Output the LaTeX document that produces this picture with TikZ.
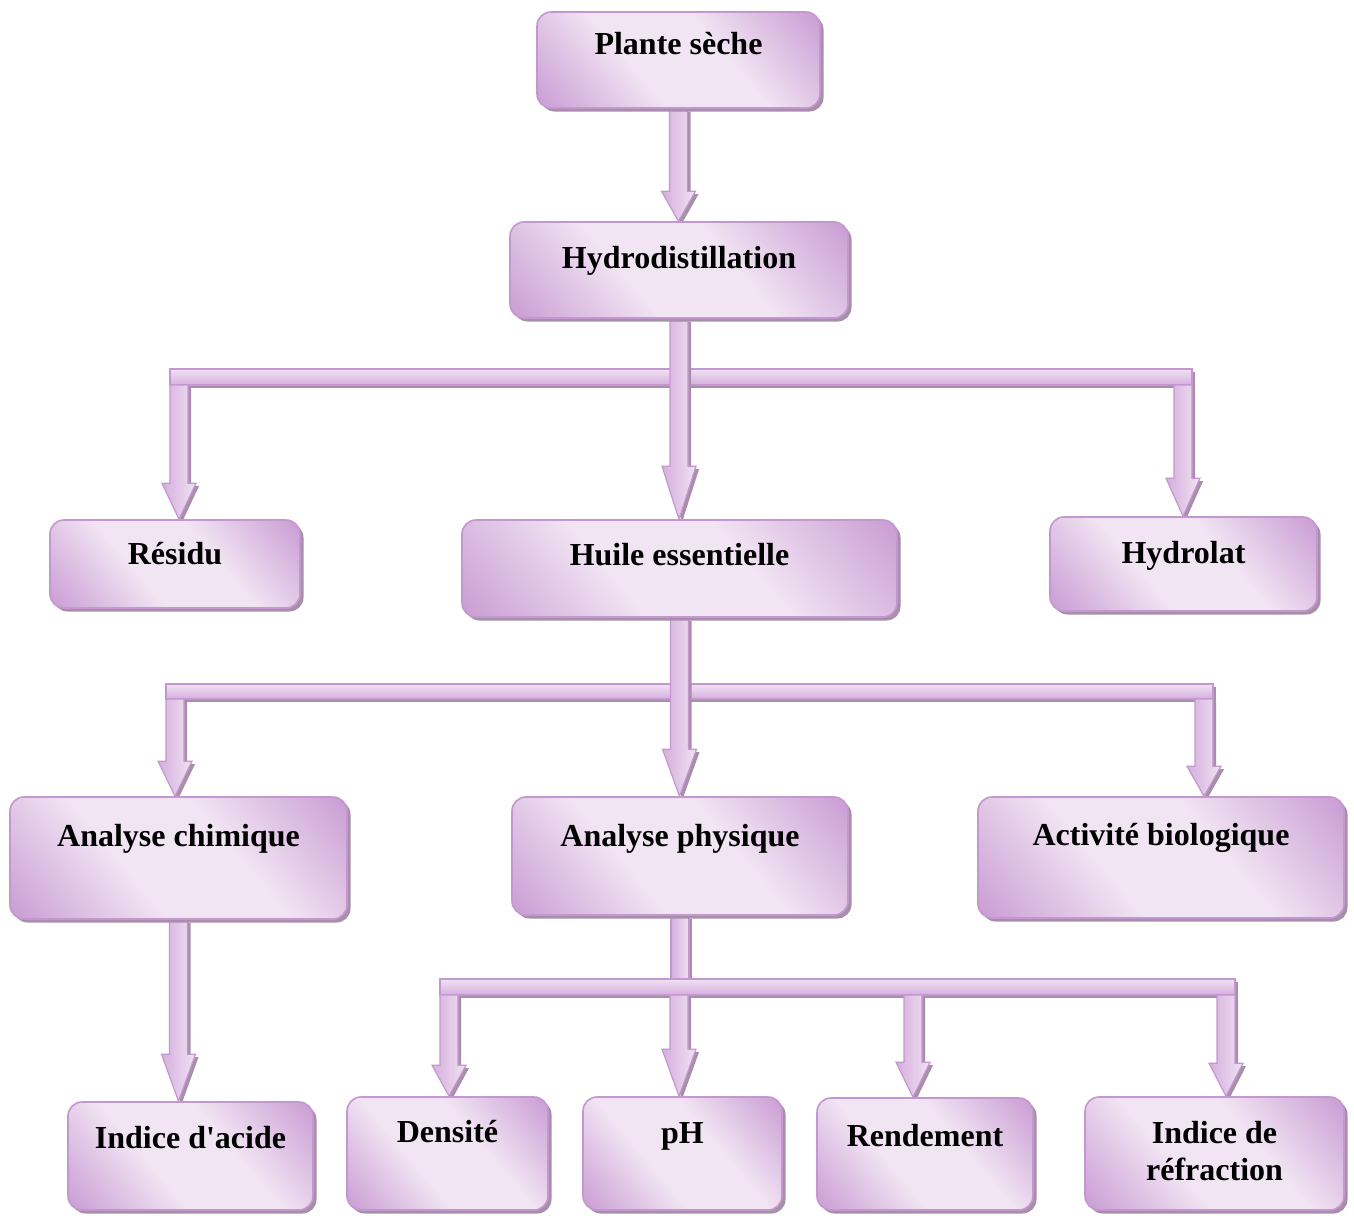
\documentclass[tikz,border=0pt]{standalone}
\usepackage{fontspec}
\setmainfont{Liberation Serif}[Ligatures=TeXOff]
\usetikzlibrary{calc,shadows}
\pgfdeclarelayer{background}
\pgfsetlayers{background,main}
\definecolor{bxdark}{HTML}{C594D0}
\definecolor{bxlight}{HTML}{F1E4F3}
\definecolor{bxline}{HTML}{C597D0}
\definecolor{shd}{HTML}{A78FA9}
\definecolor{arrA}{HTML}{D6AEDE}
\definecolor{arrB}{HTML}{F0E2F3}
\pgfdeclarehorizontalshading{boxsh}{100bp}{color(0bp)=(bxdark); color(12bp)=(bxdark); color(40bp)=(bxlight); color(60bp)=(bxlight); color(88bp)=(bxdark); color(100bp)=(bxdark)}
\tikzset{
  box/.style={rounded corners=14pt, draw=bxline, line width=1.6pt, shading=boxsh, shading angle=40,
    drop shadow={shadow xshift=3.5pt, shadow yshift=-3.5pt, fill=shd, opacity=1}},
  lbl/.style={font=\bfseries\fontsize{32}{36}\selectfont, anchor=base, inner sep=0pt},
  arrbody/.style={draw=bxline, line width=1.2pt, left color=arrA, right color=arrB, line join=miter},
  arrshadow/.style={fill=shd},
  barbody/.style={draw=bxline, line width=1.2pt, top color=arrB, bottom color=arrA},
}
% vertical block arrow: #1 start, #2 tip, #3 head length
\newcommand\varrow[3]{%
  \path[arrshadow] let \p1=(#1), \p2=(#2) in
    (\x1-9pt+3pt,\y1-3pt) -- (\x1+9pt+3pt,\y1-3pt) -- (\x1+9pt+3pt,\y2+#3pt-3pt) -- (\x1+17pt+3pt,\y2+#3pt-3pt)
    -- (\x1+3pt,\y2-3pt) -- (\x1-17pt+3pt,\y2+#3pt-3pt) -- (\x1-9pt+3pt,\y2+#3pt-3pt) -- cycle;
  \path[arrbody] let \p1=(#1), \p2=(#2) in
    (\x1-9pt,\y1) -- (\x1+9pt,\y1) -- (\x1+9pt,\y2+#3pt) -- (\x1+17pt,\y2+#3pt)
    -- (\x1,\y2) -- (\x1-17pt,\y2+#3pt) -- (\x1-9pt,\y2+#3pt) -- cycle;
}
% vertical stem without head
\newcommand\vstem[2]{%
  \path[arrshadow] let \p1=(#1), \p2=(#2) in (\x1-9pt+3pt,\y1-3pt) rectangle (\x1+9pt+3pt,\y2-3pt);
  \path[arrbody] let \p1=(#1), \p2=(#2) in (\x1-9pt,\y1) rectangle (\x1+9pt,\y2);
}
% horizontal bar
\newcommand\hbarbox[2]{%
  \path[arrshadow] let \p1=(#1), \p2=(#2) in (\x1+3pt,\y1-3pt) rectangle (\x2+3pt,\y2-3pt);
  \path[barbody] (#1) rectangle (#2);
}
\begin{document}
\begin{tikzpicture}[x=1pt,y=-1pt]
\useasboundingbox (0,0) rectangle (1354,1215);

% boxes
\begin{scope}[every node/.style={box}]
\node[minimum width=283pt, minimum height=96pt] (plante) at (678.5,60) {};
\node[minimum width=338pt, minimum height=96pt] (hydro) at (679,270) {};
\node[minimum width=250pt, minimum height=88pt] (residu) at (175,564) {};
\node[minimum width=435pt, minimum height=97pt] (huile) at (679.5,568.5) {};
\node[minimum width=267pt, minimum height=94pt] (hydrolat) at (1183.5,564) {};
\node[minimum width=337pt, minimum height=122pt] (chim) at (178.5,858) {};
\node[minimum width=336pt, minimum height=118pt] (phys) at (680,856) {};
\node[minimum width=366pt, minimum height=121pt] (bio) at (1161,857.5) {};
\node[minimum width=245pt, minimum height=108pt] (acide) at (190.5,1156) {};
\node[minimum width=201pt, minimum height=113pt] (densite) at (447.5,1153.5) {};
\node[minimum width=199pt, minimum height=113pt] (ph) at (682.5,1153.5) {};
\node[minimum width=216pt, minimum height=112pt] (rendement) at (925,1154) {};
\node[minimum width=259pt, minimum height=113pt] (refraction) at (1214.5,1153.5) {};
\end{scope}

% junction coordinates
\coordinate (b1l) at (170,369);  \coordinate (b1r) at (1192,385);
\coordinate (s1l) at (179,385);  \coordinate (s1r) at (1183,385);
\coordinate (b2l) at (166,684);  \coordinate (b2r) at (1213,699);
\coordinate (s2l) at (175,699);  \coordinate (s2r) at (1204,699);
\coordinate (b3l) at (440,979);  \coordinate (b3r) at (1235,995);
\coordinate (s3a) at (449,995);  \coordinate (s3b) at (679,995);
\coordinate (s3c) at (913,995);  \coordinate (s3d) at (1226,995);
\coordinate (t3) at (679,979);

% connectors (behind the boxes)
\begin{pgfonlayer}{background}
\varrow{plante.south}{hydro.north}{30}
\hbarbox{b1l}{b1r}
\varrow{s1l}{s1l |- residu.north}{36}
\varrow{s1r}{s1r |- hydrolat.north}{38}
\varrow{hydro.south}{huile.north}{53}

\hbarbox{b2l}{b2r}
\varrow{s2l}{s2l |- chim.north}{35}
\varrow{s2r}{s2r |- bio.north}{30}
\varrow{huile.south}{phys.north}{47}

\varrow{chim.south}{chim.south |- acide.north}{47}

\vstem{phys.south}{t3}
\hbarbox{b3l}{b3r}
\varrow{s3a}{s3a |- densite.north}{31}
\varrow{s3b}{s3b |- ph.north}{47}
\varrow{s3c}{s3c |- rendement.north}{35}
\varrow{s3d}{s3d |- refraction.north}{33}
\end{pgfonlayer}

% labels
\node[lbl] (lplante) at (678.5,55) {Plante sèche};
\node[lbl] (lhydro) at (679,268) {Hydrodistillation};
\node[lbl] (lresidu) at (175,564) {Résidu};
\node[lbl] (lhuile) at (679.5,565) {Huile essentielle};
\node[lbl] (lhydrolat) at (1183.5,563) {Hydrolat};
\node[lbl] (lchim) at (178.5,846) {Analyse chimique};
\node[lbl] (lphys) at (680,846) {Analyse physique};
\node[lbl] (lbio) at (1161,845) {Activité biologique};
\node[lbl] (lacide) at (190.5,1148) {Indice d'acide};
\node[lbl] (ldensite) at (447.5,1142) {Densité};
\node[lbl] (lph) at (682.5,1143) {pH};
\node[lbl] (lrend) at (925,1146) {Rendement};
\node[lbl] (lref1) at (1214.5,1143) {Indice de};
\node[lbl] (lref2) at (1214.5,1180) {réfraction};
\end{tikzpicture}
\end{document}
